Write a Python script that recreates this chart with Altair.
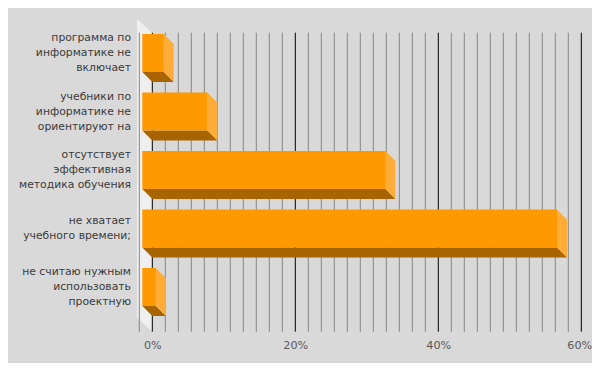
import altair as alt
import pandas as pd

# ---- data ----
categories = [
    "программа по\nинформатике не\nвключает",
    "учебники по\nинформатике не\nориентируют на",
    "отсутствует\nэффективная\nметодика обучения",
    "не хватает\nучебного времени;",
    "не считаю нужным\nиспользовать\nпроектную",
]
values = [3.0, 9.1, 34.0, 58.0, 1.9]
tick_labels = [0, 20, 40, 60]
minor_step = 20 / 11          # minor gridline step of the original chart
minor_range = (-1, 34)

# ---- style constants ----
PX_PER_PCT = 7.15
PX_PER_BAND = 58.5
DEPTH_PX = 10
LINE_H = 15
W, H = 446, 299
X_DOMAIN = [-2.14, -2.14 + W / PX_PER_PCT]
Y0 = -0.018
Y_DOMAIN = [Y0, Y0 + H / PX_PER_BAND]
dx = DEPTH_PX / PX_PER_PCT
dy = DEPTH_PX / PX_PER_BAND
half = 19 / PX_PER_BAND
wall_dy = 13.7 / PX_PER_BAND

FRONT = "#ff9900"
SIDE = "#ffad38"
BOTTOM = "#a86400"
WALL = "#efefef"
BG = "#d9d9d9"

xscale = alt.Scale(domain=X_DOMAIN, nice=False, zero=False)
yscale = alt.Scale(domain=Y_DOMAIN, nice=False, zero=False, reverse=True)

x_axis = alt.Axis(
    values=tick_labels,
    labelExpr="datum.value + '%'",
    grid=False, ticks=False, domain=False, title=None,
    labelFont="DejaVu Sans", labelFontSize=11.2,
    labelColor="#595959", labelPadding=8,
    labelOffset=alt.condition("datum.value == 60", alt.value(-2), alt.value(0)),
)

# ---- tables built from the arrays ----
centers = [i + 0.5 for i in range(len(categories))]

front = pd.DataFrame({
    "x": [-dx] * len(values),
    "x2": [v - dx for v in values],
    "y": [c - dy - half for c in centers],
    "y2": [c - dy + half for c in centers],
})

bottom_rows, side_rows = [], []
for i, (v, c) in enumerate(zip(values, centers)):
    yb = c - dy + half
    yt = c - dy - half
    bottom_rows += [
        {"id": i, "x": -dx, "y": yb, "y2": yb},
        {"id": i, "x": 0.0, "y": yb, "y2": yb + dy},
        {"id": i, "x": v - dx, "y": yb, "y2": yb + dy},
        {"id": i, "x": v, "y": yb + dy, "y2": yb + dy},
    ]
    side_rows += [
        {"id": i, "y": yt, "x": v - dx, "x2": v - dx},
        {"id": i, "y": yt + dy, "x": v - dx, "x2": v},
        {"id": i, "y": yb, "x": v - dx, "x2": v},
        {"id": i, "y": yb + dy, "x": v, "x2": v},
    ]
bottom = pd.DataFrame(bottom_rows)
side = pd.DataFrame(side_rows)

# first line position so that the multi-line block is centred on the bar
labels = pd.DataFrame({
    "text": categories,
    "y": [c - dy - (t.count("\n") * LINE_H / 2) / PX_PER_BAND for c, t in zip(centers, categories)],
})

wall = pd.DataFrame({
    "x": [X_DOMAIN[0], 0.0],
    "y": [Y_DOMAIN[0] - wall_dy, Y_DOMAIN[0]],
    "y2": [Y_DOMAIN[1] - wall_dy, Y_DOMAIN[1]],
})

grid = pd.DataFrame({"k": list(range(*minor_range))})
grid["x"] = grid["k"] * minor_step
grid["major"] = grid["k"] % 11 == 0

# ---- layers ----
wall_layer = alt.Chart(wall).mark_area(color=WALL).encode(
    x=alt.X("x:Q", scale=xscale, axis=x_axis),
    y=alt.Y("y:Q", scale=yscale, axis=None, stack=None),
    y2="y2:Q",
)

minor_layer = alt.Chart(grid[~grid["major"]]).mark_rule(color="#858585", strokeWidth=1).encode(
    x=alt.X("x:Q", scale=xscale, axis=x_axis),
)

major_layer = alt.Chart(grid[grid["major"]]).mark_rule(color="#000000", strokeWidth=1).encode(
    x=alt.X("x:Q", scale=xscale, axis=x_axis),
)

bottom_layer = alt.Chart(bottom).mark_area(color=BOTTOM, orient="vertical").encode(
    x=alt.X("x:Q", scale=xscale, axis=x_axis),
    y=alt.Y("y:Q", scale=yscale, axis=None, stack=None),
    y2="y2:Q",
    detail="id:N",
)

side_layer = alt.Chart(side).mark_area(color=SIDE, orient="horizontal").encode(
    y=alt.Y("y:Q", scale=yscale, axis=None),
    x=alt.X("x:Q", scale=xscale, axis=x_axis, stack=None),
    x2="x2:Q",
    detail="id:N",
)

front_layer = alt.Chart(front).mark_rect(color=FRONT).encode(
    x=alt.X("x:Q", scale=xscale, axis=x_axis),
    x2="x2:Q",
    y=alt.Y("y:Q", scale=yscale, axis=None),
    y2="y2:Q",
)

label_layer = alt.Chart(labels).mark_text(
    align="right", baseline="middle", lineBreak="\n", lineHeight=LINE_H,
    font="DejaVu Sans", fontSize=10.8, color="#3a3a3a",
).encode(
    x=alt.value(-6),
    y=alt.Y("y:Q", scale=yscale, axis=None),
    text="text:N",
)

chart = alt.layer(
    wall_layer, minor_layer, major_layer, bottom_layer, side_layer, front_layer, label_layer
).properties(
    width=W, height=H,
    autosize=alt.AutoSizeParams(type="none"),
    padding={"left": 129, "top": 24.7, "right": 9, "bottom": 31.3},
    background=BG,
).configure_view(stroke=None)

chart.save("out.html", embed_options={"renderer": "svg", "actions": False})
